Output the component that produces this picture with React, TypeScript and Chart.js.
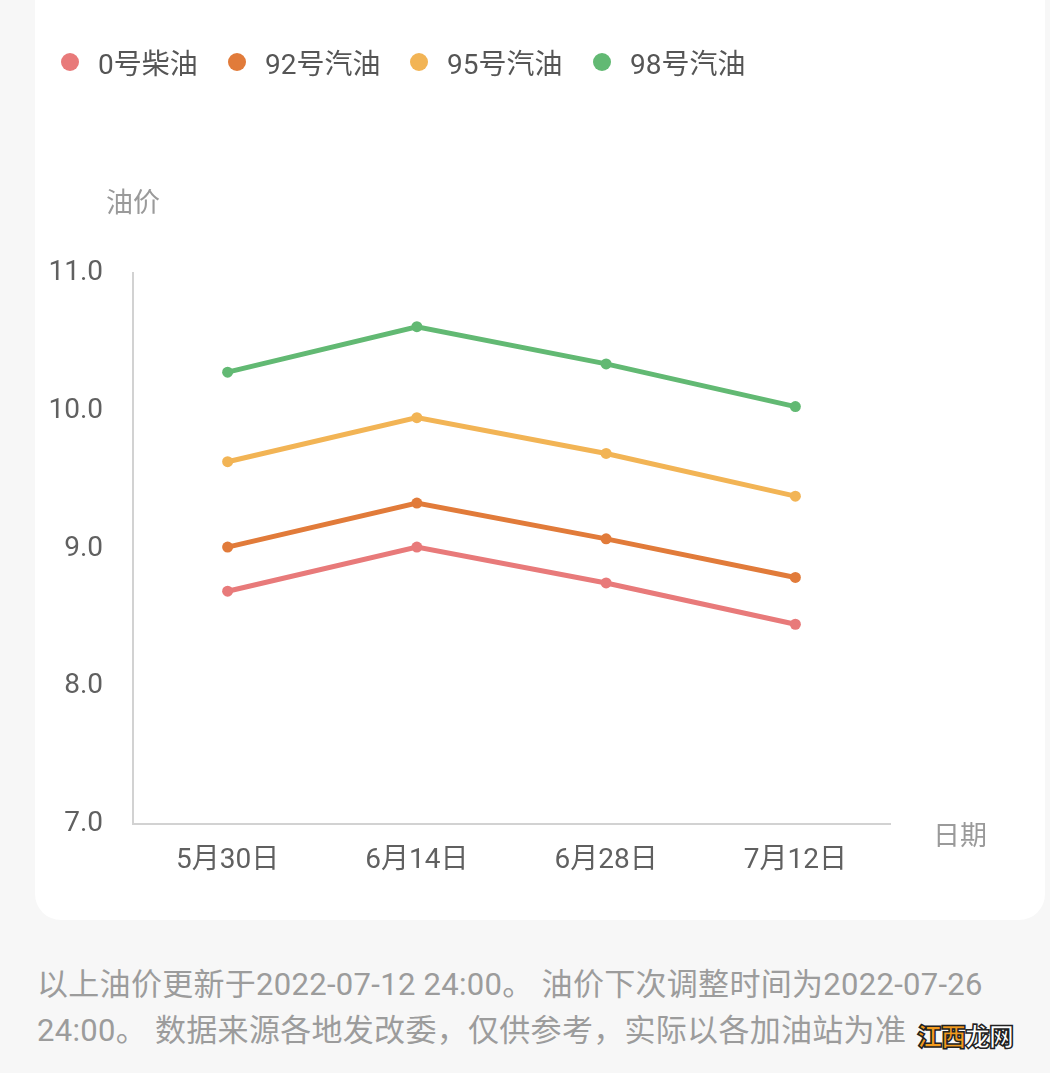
import React, { useEffect, useRef } from "react";
import { Chart, registerables } from "chart.js";

Chart.register(...registerables);

const categories = ["5月30日", "6月14日", "6月28日", "7月12日"];
const seriesNames = ["0号柴油", "92号汽油", "95号汽油", "98号汽油"];
const diesel0 = [8.69, 9.01, 8.75, 8.45];
const gas92 = [9.01, 9.33, 9.07, 8.79];
const gas95 = [9.63, 9.95, 9.69, 9.38];
const gas98 = [10.28, 10.61, 10.34, 10.03];
const seriesColors = ["#e87a7a", "#e17b3a", "#f2b455", "#62b973"];
const yTicks = [7, 8, 9, 10, 11];
const yTitle = "油价";
const xTitle = "日期";
const footerLines = [
  "以上油价更新于2022-07-12 24:00。 油价下次调整时间为2022-07-26",
  "24:00。 数据来源各地发改委，仅供参考，实际以各加油站为准",
];
const watermarkA = "江西";
const watermarkB = "龙网";

const FONT = "Roboto, 'Noto Sans CJK SC', sans-serif";

export default function App() {
  const canvasRef = useRef<HTMLCanvasElement | null>(null);

  useEffect(() => {
    document.body.style.margin = "0";
    const canvas = canvasRef.current;
    if (!canvas) return;
    const seriesValues = [diesel0, gas92, gas95, gas98];
    const titlePlugin = {
      id: "axisTitles",
      afterDraw(chart: any) {
        const { ctx, chartArea } = chart;
        ctx.save();
        ctx.fillStyle = "#9a9a9a";
        ctx.font = `27px ${FONT}`;
        ctx.textAlign = "center";
        ctx.textBaseline = "middle";
        ctx.fillText(yTitle, chartArea.left, chartArea.top - 68);
        ctx.fillText(xTitle, chartArea.right + 70, chartArea.bottom + 14);
        ctx.restore();
      },
    };
    const chart = new Chart(canvas, {
      type: "line",
      data: {
        labels: categories,
        datasets: seriesNames.map((name, i) => ({
          label: name,
          data: seriesValues[i],
          borderColor: seriesColors[i],
          backgroundColor: seriesColors[i],
          borderWidth: 5,
          pointRadius: 5.5,
          pointHoverRadius: 5.5,
          pointBorderWidth: 0,
          tension: 0,
          fill: false,
        })),
      },
      options: {
        animation: false,
        responsive: false,
        maintainAspectRatio: false,
        events: [],
        layout: { padding: { left: 0, right: 160, top: 273, bottom: 36 } },
        plugins: {
          legend: { display: false },
          tooltip: { enabled: false },
        },
        scales: {
          x: {
            offset: true,
            grid: { display: false },
            border: { display: true, color: "#d2d2d2", width: 2 },
            ticks: {
              color: "#606060",
              font: { size: 28, family: FONT },
              padding: 12,
              maxRotation: 0,
            },
            afterFit: (s: any) => {
              s.height = 60;
            },
          },
          y: {
            min: 7,
            max: 11,
            grid: { display: false },
            border: { display: true, color: "#d2d2d2", width: 2 },
            afterBuildTicks: (s: any) => {
              s.ticks = yTicks.map((v) => ({ value: v }));
            },
            ticks: {
              color: "#606060",
              font: { size: 28, family: FONT },
              padding: 22,
              callback: (v: any) => Number(v).toFixed(1),
            },
            afterFit: (s: any) => {
              s.width = 133;
            },
          },
        },
      },
      plugins: [titlePlugin],
    });
    return () => chart.destroy();
  }, []);

  const legendX = [70, 237, 419, 602];

  return (
    <div
      style={{
        position: "relative",
        width: 1050,
        height: 1073,
        background: "#f7f7f7",
        overflow: "hidden",
        fontFamily: FONT,
      }}
    >
      <div
        style={{
          position: "absolute",
          left: 35,
          top: -40,
          width: 1010,
          height: 960,
          background: "#ffffff",
          borderRadius: 26,
        }}
      />
      <canvas
        ref={canvasRef}
        width={1050}
        height={920}
        style={{ position: "absolute", left: 0, top: 0, width: 1050, height: 920 }}
      />
      {seriesNames.map((name, i) => (
        <div
          key={name}
          style={{
            position: "absolute",
            left: legendX[i] - 9,
            top: 44,
            height: 36,
            display: "flex",
            alignItems: "center",
            whiteSpace: "nowrap",
          }}
        >
          <span
            style={{
              display: "inline-block",
              width: 18,
              height: 18,
              borderRadius: 9,
              background: seriesColors[i],
              marginRight: 19,
            }}
          />
          <span style={{ fontSize: 28, color: "#555555" }}>{name}</span>
        </div>
      ))}
      {footerLines.map((line, i) => (
        <div
          key={i}
          style={{
            position: "absolute",
            left: 37,
            top: 963 + i * 46,
            fontSize: 31,
            lineHeight: "44px",
            letterSpacing: 0.3,
            color: "#9c9c9c",
            whiteSpace: "nowrap",
          }}
        >
          {line}
        </div>
      ))}
      <div
        style={{
          position: "absolute",
          left: 917,
          top: 1018,
          fontSize: 25,
          fontWeight: 900,
          lineHeight: "34px",
          letterSpacing: -1,
          WebkitTextStroke: "1.5px #222",
          whiteSpace: "nowrap",
          fontFamily: "'Noto Sans CJK SC', sans-serif",
        }}
      >
        <span style={{ color: "#f29a1e" }}>{watermarkA}</span>
        <span style={{ color: "#ffffff" }}>{watermarkB}</span>
      </div>
    </div>
  );
}
